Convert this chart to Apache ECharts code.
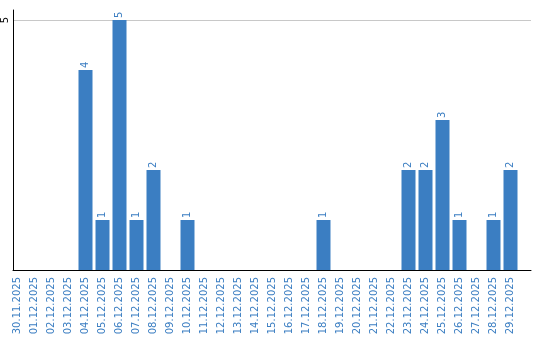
<!DOCTYPE html>
<html><head><meta charset="utf-8">
<script src="https://cdn.jsdelivr.net/npm/echarts@6/dist/echarts.min.js"></script>
<style>html,body{margin:0;padding:0;background:#fff}#c{width:540px;height:340px}</style>
</head><body><div id="c"></div>
<script>
var categories = ['30.11.2025','01.12.2025','02.12.2025','03.12.2025','04.12.2025','05.12.2025','06.12.2025','07.12.2025','08.12.2025','09.12.2025','10.12.2025','11.12.2025','12.12.2025','13.12.2025','14.12.2025','15.12.2025','16.12.2025','17.12.2025','18.12.2025','19.12.2025','20.12.2025','21.12.2025','22.12.2025','23.12.2025','24.12.2025','25.12.2025','26.12.2025','27.12.2025','28.12.2025','29.12.2025'];
var values = [0,0,0,0,4,1,5,1,2,0,1,0,0,0,0,0,0,0,1,0,0,0,0,2,2,3,1,0,1,2];
var yMax = 5.2;
var yTick = 5;

var blue = '#3b7ec2';
var font = 'DejaVu Sans';
var chart = echarts.init(document.getElementById('c'));
chart.setOption({
  animation: false,
  grid: [
    {left: 9, top: 10, width: 510, bottom: 70},
    {left: 10, top: 10, right: 9, bottom: 70}
  ],
  xAxis: [
    {type: 'category', gridIndex: 0, data: categories,
     axisLine: {show: false}, axisTick: {show: false},
     axisLabel: {rotate: 90, interval: 0, color: blue, fontFamily: font, fontSize: 10, margin: 7}},
    {type: 'value', gridIndex: 1, min: 0, max: 1,
     axisLine: {show: true, onZero: false, lineStyle: {color: '#000', width: 1}},
     axisTick: {show: false}, axisLabel: {show: false}, splitLine: {show: false}}
  ],
  yAxis: [
    {type: 'value', gridIndex: 0, min: 0, max: yMax, show: false, splitLine: {show: false}},
    {type: 'value', gridIndex: 1, min: 0, max: yMax, interval: yTick,
     axisLine: {show: true, lineStyle: {color: '#000', width: 1}},
     axisTick: {show: false},
     splitLine: {show: true, showMaxLine: false, showMinLine: false, lineStyle: {color: '#c8c8c8', width: 1}},
     axisLabel: {rotate: 90, color: '#000', fontFamily: font, fontSize: 10, margin: 3, showMaxLabel: false,
       formatter: function(v){ return v === 0 ? '' : String(v); }}}
  ],
  series: [{
    type: 'bar', xAxisIndex: 0, yAxisIndex: 0,
    data: values.map(function(v){ return v === 0 ? null : v; }),
    barWidth: 14,
    itemStyle: {color: blue},
    label: {show: true, position: 'top', rotate: 90, align: 'left', verticalAlign: 'middle',
      distance: 2, color: blue, fontFamily: font, fontSize: 10}
  }]
});
</script></body></html>
